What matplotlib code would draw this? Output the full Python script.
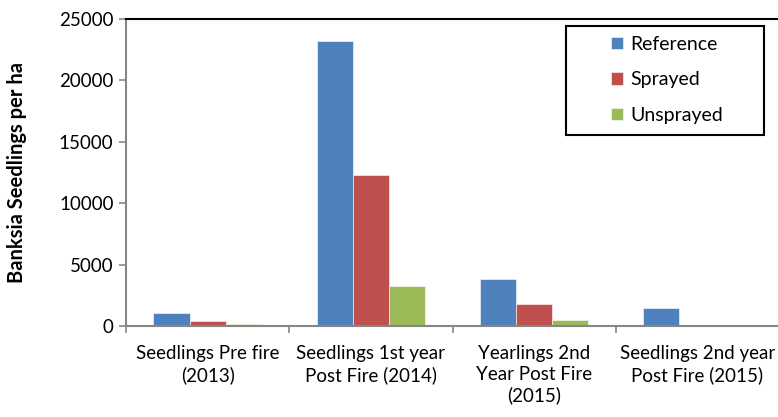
import matplotlib
matplotlib.use("Agg")
import matplotlib.pyplot as plt
from matplotlib.patches import Rectangle
import numpy as np

categories = ["Seedlings Pre fire\n(2013)", "Seedlings 1st year\nPost Fire (2014)",
              "Yearlings 2nd\nYear Post Fire\n(2015)", "Seedlings 2nd year\nPost Fire (2015)"]
series_names = ["Reference", "Sprayed", "Unsprayed"]
reference = [1080, 23200, 3850, 1440]
sprayed = [430, 12300, 1770, 0]
unsprayed = [170, 3260, 490, 0]
colors = ["#4F81BD", "#C0504D", "#9BBB59"]
yticks = [0, 5000, 10000, 15000, 20000, 25000]

plt.rcParams['font.family'] = ['Lato', 'DejaVu Sans']

fig = plt.figure(figsize=(7.78, 4.17), dpi=100)
ax = fig.add_axes([126/778, 1-326/417, 653/778, 307/417])

x = np.arange(len(categories))
w = 0.222
for i, (vals, name, c) in enumerate(zip([reference, sprayed, unsprayed], series_names, colors)):
    ax.bar(x + (i-1)*w, vals, width=w, color=c, label=name, edgecolor='white', linewidth=0.4, zorder=2)

ax.set_xlim(-0.5, 3.5)
ax.set_ylim(0, 25000)
ax.set_yticks(yticks)
ax.set_yticklabels([str(v) for v in yticks], fontsize=13.5)
ax.set_xticks(x)
ax.set_xticklabels(categories, fontsize=13.5, linespacing=1.25)
ax.tick_params(axis='x', which='major', length=0, pad=14)
ax.set_xticks(np.arange(-0.5, 3.6, 1.0), minor=True)
ax.tick_params(axis='x', which='minor', length=5, color='#868686', width=1.2)
ax.tick_params(axis='y', length=5, color='#868686', width=1.2, pad=4)

for s in ['left', 'bottom']:
    ax.spines[s].set_color('#868686')
    ax.spines[s].set_linewidth(1.5)
ax.spines['top'].set_color('black')
ax.spines['top'].set_linewidth(1.5)
ax.spines['right'].set_visible(False)

ax.set_ylabel("Banksia Seedlings per ha", fontsize=14.5, fontweight='bold')
ax.yaxis.set_label_coords(-0.152, 0.5)

# legend frame (pixel-based placement)
fig.add_artist(Rectangle((566/778, 1-135/417), (764-566)/778, (135-26)/417,
                         transform=fig.transFigure, fill=True, facecolor='white',
                         edgecolor='black', linewidth=1.5, zorder=5))
leg = fig.legend(*ax.get_legend_handles_labels(), loc='upper left',
                 bbox_to_anchor=(611/778, 1-36/417), fontsize=14,
                 frameon=False, borderpad=0, labelspacing=0.95,
                 handlelength=0.6, handleheight=0.6, handletextpad=0.4, borderaxespad=0)
leg.set_zorder(6)

fig.savefig("out.png", dpi=100)
